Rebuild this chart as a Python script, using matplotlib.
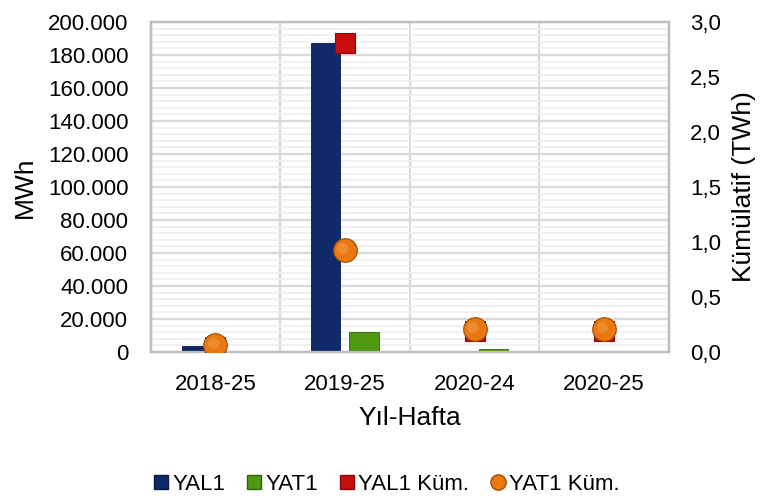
import matplotlib.pyplot as plt
import numpy as np
from matplotlib.lines import Line2D
from matplotlib.ticker import FuncFormatter, MultipleLocator

plt.rcParams['font.family'] = ['Liberation Sans', 'DejaVu Sans']

# data
weeks = ['2018-25', '2019-25', '2020-24', '2020-25']
yal1 = [3800, 187100, 0, 0]          # MWh
yat1 = [300, 12000, 1700, 0]         # MWh
yal1_cum = [0.05, 2.81, 0.19, 0.19]  # TWh
yat1_cum = [0.06, 0.93, 0.205, 0.205]  # TWh

navy = '#10296a'
green = '#4f9a12'
red = '#c80d0d'
orange = '#e8780f'

fig = plt.figure(figsize=(7.65, 4.99), dpi=100)
ax = fig.add_axes([150.5 / 765, 1 - 352 / 499, (669 - 150.5) / 765, (352 - 22) / 499])
ax2 = ax.twinx()

x = np.arange(len(weeks))
w = 0.224
off = 0.147
ax.bar(x - off, yal1, w, color=navy, edgecolor='#08173f', linewidth=0.6, zorder=3)
ax.bar(x + off, yat1, w, color=green, edgecolor='#2f6408', linewidth=0.6, zorder=3)

ax2.plot(x, yal1_cum, linestyle='none', marker='s', markersize=15,
         markerfacecolor=red, markeredgecolor='#8a0b0b', markeredgewidth=0.8, zorder=4)
ax2.plot(x, yat1_cum, linestyle='none', marker='o', markersize=17,
         markerfacecolor=orange, markeredgecolor='#a24d05', markeredgewidth=0.8, zorder=5)
# soft highlight to hint at the sphere look
ax2.plot(x - 0.02, np.array(yat1_cum) + 0.02, linestyle='none', marker='o', markersize=8,
         markerfacecolor='#f29a45', markeredgecolor='none', alpha=0.6, zorder=6)

ax.set_xlim(-0.5, len(weeks) - 0.5)
ax.set_ylim(0, 200000)
ax2.set_ylim(0, 3.0)

ax.yaxis.set_major_locator(MultipleLocator(20000))
ax.yaxis.set_minor_locator(MultipleLocator(4000))
ax2.yaxis.set_major_locator(MultipleLocator(0.5))
ax.yaxis.set_major_formatter(FuncFormatter(lambda v, p: f"{int(round(v)):,}".replace(',', '.')))
ax2.yaxis.set_major_formatter(FuncFormatter(lambda v, p: f"{v:.1f}".replace('.', ',')))

ax.set_xticks(x)
ax.set_xticklabels(weeks)
ax.set_xticks(np.arange(len(weeks) + 1) - 0.5, minor=True)

ax.set_axisbelow(True)
ax.grid(axis='y', which='major', color='#d9d9d9', linewidth=1.6)
ax.grid(axis='y', which='minor', color='#efefef', linewidth=1.2)
ax.grid(axis='x', which='minor', color='#d9d9d9', linewidth=1.6)

for a in (ax, ax2):
    for s in a.spines.values():
        s.set_color('#bfbfbf')
        s.set_linewidth(1.6)
    a.tick_params(which='both', length=0, labelsize=16, colors='black')
ax.tick_params(axis='y', pad=16)
ax.tick_params(axis='x', pad=16)
ax2.tick_params(axis='y', pad=15)

ax.set_xlabel('Yıl-Hafta', fontsize=19, labelpad=8)
ax.set_ylabel('MWh', fontsize=19, labelpad=8)
ax2.set_ylabel('Kümülatif (TWh)', fontsize=19, labelpad=8)

handles = [
    Line2D([], [], linestyle='none', marker='s', markersize=10, markerfacecolor=navy, markeredgecolor='#08173f'),
    Line2D([], [], linestyle='none', marker='s', markersize=10, markerfacecolor=green, markeredgecolor='#2f6408'),
    Line2D([], [], linestyle='none', marker='s', markersize=10, markerfacecolor=red, markeredgecolor='#8a0b0b'),
    Line2D([], [], linestyle='none', marker='o', markersize=11, markerfacecolor=orange, markeredgecolor='#a24d05'),
]
fig.legend(handles, ['YAL1', 'YAT1', 'YAL1 Küm.', 'YAT1 Küm.'], loc='center',
           bbox_to_anchor=(385 / 765, 1 - 484 / 499), ncol=4, frameon=False,
           fontsize=16, handletextpad=0.0, columnspacing=0.8, handlelength=1.0)

fig.savefig('out.png', dpi=100)
